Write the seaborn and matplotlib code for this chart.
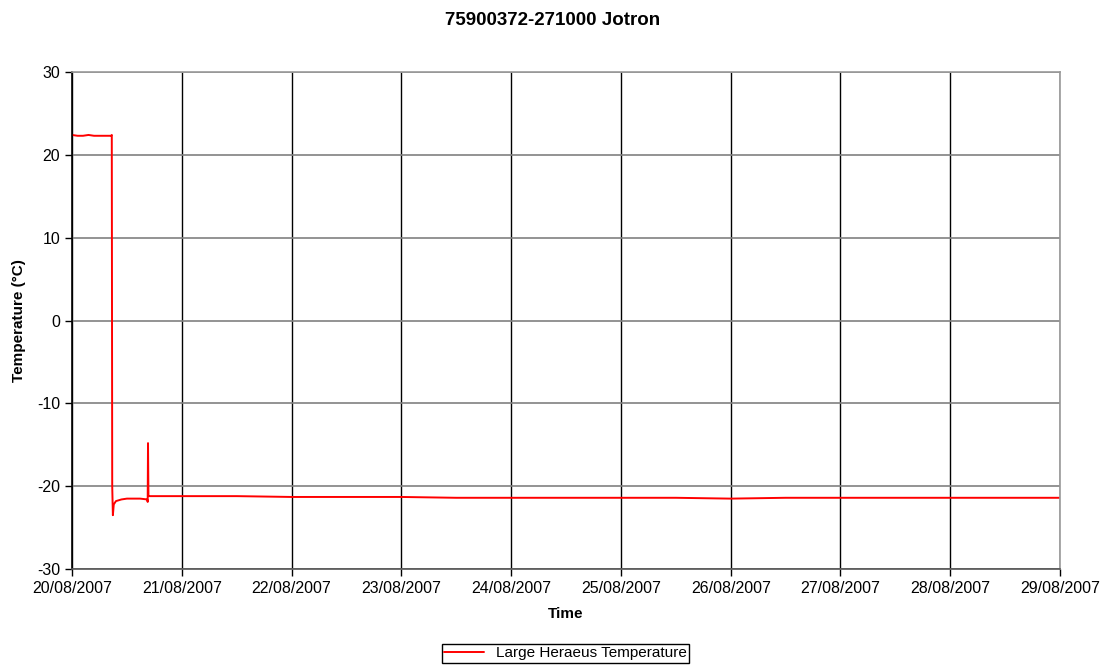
import matplotlib
matplotlib.use("Agg")
import matplotlib.pyplot as plt
import matplotlib.dates as mdates
import seaborn as sns
import pandas as pd

# Data (offset in days from 20/08/2007 00:00, temperature in °C)
day_offsets = [0.0, 0.05, 0.1, 0.15, 0.2, 0.25, 0.3, 0.34, 0.355, 0.362, 0.366, 0.372,
               0.38, 0.40, 0.45, 0.50, 0.55, 0.62, 0.685, 0.689, 0.692, 0.696, 0.70,
               0.75, 1.0, 1.5, 2.0, 2.5, 3.0, 3.5, 4.0, 4.5, 5.0, 5.5, 6.0, 6.5,
               7.0, 7.5, 8.0, 8.5, 9.0]
temperatures = [22.4, 22.3, 22.3, 22.4, 22.3, 22.3, 22.3, 22.3, 22.3, 22.4, -20.0, -23.5,
                -22.2, -21.8, -21.6, -21.5, -21.5, -21.5, -21.6, -21.9, -14.8, -21.2, -21.2,
                -21.2, -21.2, -21.2, -21.3, -21.3, -21.3, -21.4, -21.4, -21.4, -21.4, -21.4,
                -21.5, -21.4, -21.4, -21.4, -21.4, -21.4, -21.4]
series_name = "Large Heraeus Temperature"
title = "75900372-271000 Jotron"
start = "2007-08-20"
y_ticks = [-30, -20, -10, 0, 10, 20, 30]

df = pd.DataFrame({
    "Time": pd.Timestamp(start) + pd.to_timedelta(day_offsets, unit="D"),
    "Temperature": temperatures,
    "Series": series_name,
})

sns.set_style("white")
plt.rcParams["font.family"] = ["Liberation Sans", "DejaVu Sans"]
plt.rcParams["axes.unicode_minus"] = False
plt.rcParams["text.color"] = "black"
plt.rcParams["axes.labelcolor"] = "black"
plt.rcParams["xtick.color"] = "black"
plt.rcParams["ytick.color"] = "black"

fig = plt.figure(figsize=(11.05, 6.66), dpi=100)
ax = fig.add_axes([0.0652, 0.1456, 0.8941, 0.7463])

sns.lineplot(data=df, x="Time", y="Temperature", hue="Series",
             palette=["#ff0000"], linewidth=1.4, ax=ax, legend=False)

ax.set_xlim(pd.Timestamp(start), pd.Timestamp(start) + pd.Timedelta(days=9))
ax.set_ylim(-30, 30)
ax.set_yticks(y_ticks)
ax.xaxis.set_major_locator(mdates.DayLocator())
ax.xaxis.set_major_formatter(mdates.DateFormatter("%d/%m/%Y"))

ax.yaxis.grid(True, color="#808080", linewidth=1.2)
ax.xaxis.grid(True, color="black", linewidth=1.0)
ax.set_axisbelow(True)

for side in ["top", "right"]:
    ax.spines[side].set_color("#999999")
    ax.spines[side].set_linewidth(1.2)
ax.spines["left"].set_color("black")
ax.spines["bottom"].set_color("#555555")
for side in ["left", "bottom"]:
    ax.spines[side].set_linewidth(1.2)

ax.tick_params(axis="both", which="major", direction="out", length=5, width=1,
               color="black", labelcolor="black", labelsize=11.5, bottom=True, left=True)

ax.set_xlabel("Time", fontsize=11, fontweight="bold", labelpad=8, color="black")
ax.set_ylabel("Temperature (°C)", fontsize=11, fontweight="bold", labelpad=8, color="black")
fig.suptitle(title, fontsize=13.5, fontweight="bold", y=0.982, color="black")

handle = plt.Line2D([], [], color="#ff0000", linewidth=1.4)
leg = fig.legend([handle], [series_name], loc="upper center",
                 bbox_to_anchor=(0.512, 0.033), frameon=True, fancybox=False,
                 edgecolor="black", fontsize=11, handlelength=2.6,
                 borderpad=0.15, framealpha=1, borderaxespad=0)
leg.get_frame().set_linewidth(1.0)

fig.savefig("out.png", dpi=100)
